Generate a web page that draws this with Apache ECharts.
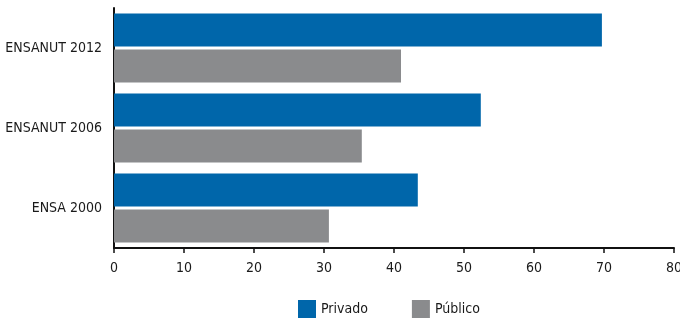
<!DOCTYPE html>
<html><head><meta charset="utf-8">
<script src="https://cdn.jsdelivr.net/npm/echarts@6/dist/echarts.min.js"></script>
<style>html,body{margin:0;padding:0;background:#fff}#c{width:680px;height:323px}</style>
</head><body><div id="c"></div>
<script>
const categories = ['ENSA 2000', 'ENSANUT 2006', 'ENSANUT 2012'];
const privado = [43.4, 52.4, 69.7];
const publico = [30.7, 35.4, 41.0];
const xTicks = [0, 10, 20, 30, 40, 50, 60, 70, 80];
const FONT = '"DejaVu Sans Condensed", "Liberation Sans Narrow", sans-serif';
const chart = echarts.init(document.getElementById('c'));
chart.setOption({
  animation: false,
  grid: {left: 114, right: 6, top: 8, bottom: 75, containLabel: false, outerBoundsMode: 'none'},
  legend: {
    left: 298, top: 300, padding: 0, itemWidth: 18, itemHeight: 18, itemGap: 44,
    icon: 'rect',
    textStyle: {fontFamily: FONT, fontSize: 14, color: '#1a1a1a'},
    data: ['Privado', 'Público']
  },
  xAxis: {
    type: 'value', min: xTicks[0], max: xTicks[xTicks.length - 1], interval: 10,
    axisLine: {show: true, lineStyle: {color: '#111', width: 2}},
    axisTick: {show: true, length: 5, lineStyle: {color: '#111', width: 1.5}},
    axisLabel: {fontFamily: FONT, fontSize: 14, color: '#1a1a1a', margin: 13},
    splitLine: {show: false}
  },
  yAxis: {
    type: 'category', data: categories,
    axisLine: {show: true, lineStyle: {color: '#111', width: 2}},
    axisTick: {show: false},
    axisLabel: {fontFamily: FONT, fontSize: 14, color: '#1a1a1a', margin: 12}
  },
  series: [
    {name: 'Privado', type: 'bar', data: privado, barWidth: 33, barGap: '9%',
     itemStyle: {color: '#0066aa'}},
    {name: 'Público', type: 'bar', data: publico, barWidth: 33, barGap: '9%',
     itemStyle: {color: '#8a8b8d'}}
  ]
});
</script></body></html>
